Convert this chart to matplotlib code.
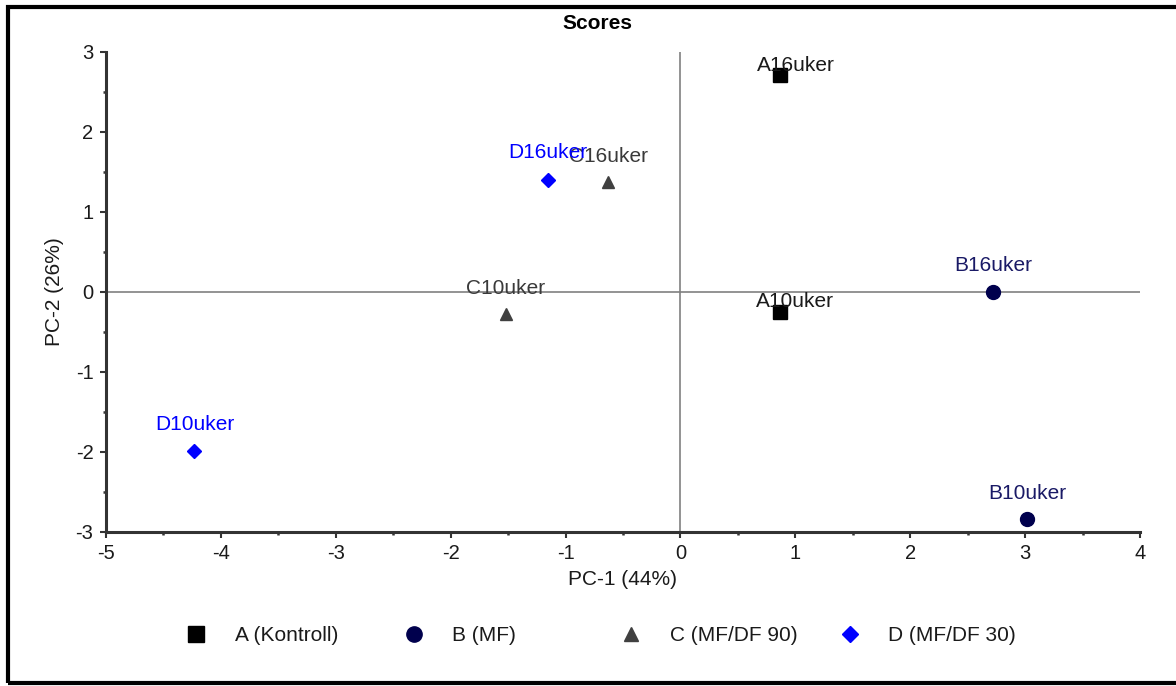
import matplotlib
matplotlib.use("Agg")
from matplotlib import pyplot as plt
from matplotlib.lines import Line2D
from matplotlib.patches import Rectangle
from matplotlib.ticker import MultipleLocator

plt.rcParams["font.family"] = ["Liberation Sans", "DejaVu Sans"]
plt.rcParams["axes.unicode_minus"] = False

# PCA scores per sample
labels = ["A16uker", "A10uker", "B16uker", "B10uker",
          "C16uker", "C10uker", "D16uker", "D10uker"]
pc1 = [0.87, 0.87, 2.72, 3.02, -0.63, -1.52, -1.15, -4.23]
pc2 = [2.71, -0.25, 0.0, -2.84, 1.375, -0.275, 1.40, -1.99]
groups = ["A", "A", "B", "B", "C", "C", "D", "D"]

group_names = ["A (Kontroll)", "B (MF)", "C (MF/DF 90)", "D (MF/DF 30)"]
group_markers = {"A": "s", "B": "o", "C": "^", "D": "D"}
group_sizes = {"A": 10, "B": 10, "C": 9, "D": 7}
group_colors = {"A": "#000000", "B": "#00004d", "C": "#404040", "D": "#0000ff"}
label_colors = {"A": "#1a1a1a", "B": "#1a1a66", "C": "#3a3a3a", "D": "#0000ff"}
# label offset (pixels) relative to its marker
label_offsets = {"A": (15, 10), "B": (0, 26), "C": (0, 25), "D": (0, 27)}

fig = plt.figure(figsize=(11.76, 6.86), dpi=100, facecolor="white")
ax = fig.add_axes([0.0901, 0.2245, 0.8793, 0.6997])

ax.axhline(0, color="#808080", lw=1.2, zorder=1)
ax.axvline(0, color="#808080", lw=1.2, zorder=1)

for x, y, lab, g in zip(pc1, pc2, labels, groups):
    ax.plot(x, y, linestyle="none", marker=group_markers[g],
            markersize=group_sizes[g], color=group_colors[g], zorder=3)
    dx, dy = label_offsets[g]
    ax.annotate(lab, (x, y), xytext=(dx * 0.72, dy * 0.72),
                textcoords="offset points", ha="center", va="center",
                fontsize=15, color=label_colors[g], zorder=4)

ax.set_xlim(-5, 4)
ax.set_ylim(-3, 3)
ax.xaxis.set_major_locator(MultipleLocator(1))
ax.xaxis.set_minor_locator(MultipleLocator(0.5))
ax.yaxis.set_major_locator(MultipleLocator(1))
ax.yaxis.set_minor_locator(MultipleLocator(0.5))
ax.tick_params(which="major", length=4, width=1.5, color="#333333",
               labelsize=14.5, labelcolor="#1a1a1a", pad=5)
ax.tick_params(which="minor", length=2.5, width=1.8, color="#333333")

for side in ("top", "right"):
    ax.spines[side].set_visible(False)
for side in ("left", "bottom"):
    ax.spines[side].set_linewidth(2.2)
    ax.spines[side].set_color("#333333")

ax.set_xlabel("PC-1 (44%)", fontsize=15, color="#1a1a1a", labelpad=5)
ax.set_ylabel("PC-2 (26%)", fontsize=15, color="#1a1a1a", labelpad=8)
fig.text(0.508, 0.966, "Scores", ha="center", va="center",
         fontsize=15, fontweight="bold")

# one legend entry per group, evenly spaced
legend_x = [0.149, 0.334, 0.519, 0.705]
for name, g, lx in zip(group_names, ["A", "B", "C", "D"], legend_x):
    h = Line2D([], [], linestyle="none", marker=group_markers[g],
               markersize=group_sizes[g] + 1, color=group_colors[g])
    fig.legend([h], [name], loc="center left", bbox_to_anchor=(lx, 0.073),
               frameon=False, fontsize=15, handletextpad=0.85,
               labelcolor="#1a1a1a", borderpad=0, borderaxespad=0)

# outer frame, running off the right edge
fig.patches.append(Rectangle((0.0068, 0.004), 1.1, 0.986,
                             transform=fig.transFigure, fill=False,
                             edgecolor="black", lw=3, zorder=10))

fig.savefig("out.png", dpi=100, facecolor="white")
